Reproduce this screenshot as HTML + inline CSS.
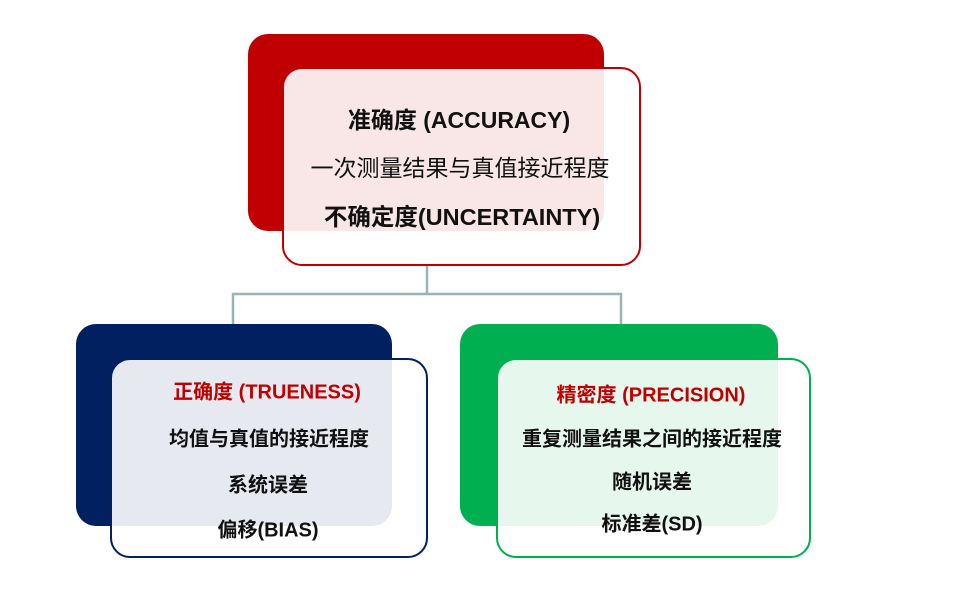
<!DOCTYPE html>
<html><head><meta charset="utf-8"><style>
body{margin:0;width:972px;height:613px;background:#fff;position:relative;overflow:hidden;font-family:"Liberation Sans","Noto Sans CJK SC",sans-serif;}
.b{position:absolute;border-radius:20px;box-sizing:border-box}
.t{position:absolute;white-space:nowrap;transform:translate(-50%,-50%);color:#111}
</style></head><body>
<svg width="972" height="613" style="position:absolute;left:0;top:0">
<path d="M427 266V294M233 324V294H621V324" stroke="#98b4b4" stroke-width="2.5" fill="none"/>
</svg>
<div class="b" style="left:248px;top:34px;width:356px;height:197px;background:#c00000"></div>
<div class="b" style="left:282px;top:67px;width:359px;height:199px;background:rgba(255,255,255,0.9);border:2.5px solid #c00000"></div>
<div class="b" style="left:76px;top:324px;width:316px;height:202px;background:#002060"></div>
<div class="b" style="left:110px;top:358px;width:318px;height:200px;background:rgba(255,255,255,0.9);border:2.5px solid #002060"></div>
<div class="b" style="left:460px;top:324px;width:318px;height:202px;background:#00b050"></div>
<div class="b" style="left:496px;top:358px;width:315px;height:200px;background:rgba(255,255,255,0.9);border:2.5px solid #00b050"></div>

<div class="t" style="left:459px;top:118px;font-size:23px;font-weight:bold">准确度 (ACCURACY)</div>
<div class="t" style="left:460px;top:166px;font-size:23px">一次测量结果与真值接近程度</div>
<div class="t" style="left:462px;top:215px;font-size:23.5px;font-weight:bold">不确定度(UNCERTAINTY)</div>

<div class="t" style="left:267px;top:390px;font-size:20px;font-weight:bold;color:#c00000">正确度 (TRUENESS)</div>
<div class="t" style="left:269px;top:437px;font-size:20px;font-weight:bold">均值与真值的接近程度</div>
<div class="t" style="left:268px;top:483px;font-size:20px;font-weight:bold">系统误差</div>
<div class="t" style="left:268px;top:528px;font-size:20px;font-weight:bold">偏移(BIAS)</div>

<div class="t" style="left:651px;top:393px;font-size:20px;font-weight:bold;color:#c00000">精密度 (PRECISION)</div>
<div class="t" style="left:652px;top:437px;font-size:20px;font-weight:bold">重复测量结果之间的接近程度</div>
<div class="t" style="left:652px;top:480px;font-size:20px;font-weight:bold">随机误差</div>
<div class="t" style="left:652px;top:522px;font-size:20px;font-weight:bold">标准差(SD)</div>
</body></html>
